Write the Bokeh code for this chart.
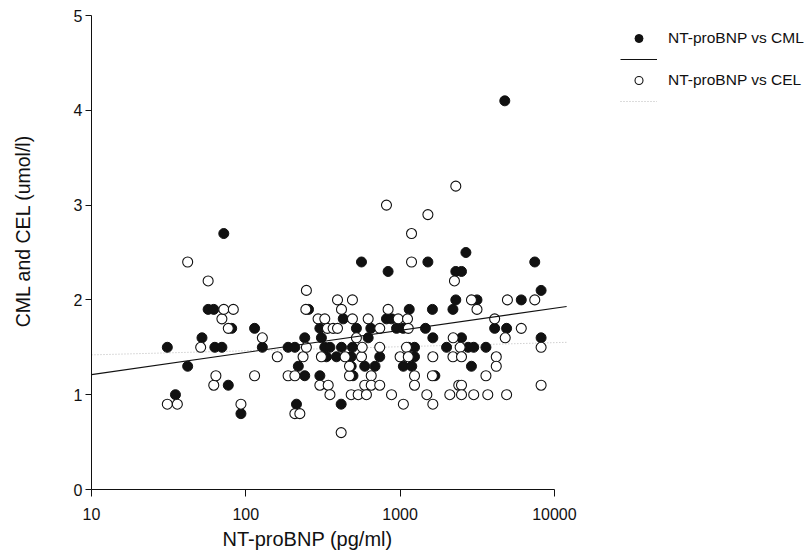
import math

from bokeh.core.properties import value
from bokeh.embed import file_html
from bokeh.models import (ColumnDataSource, FixedTicker, Legend, LegendItem,
                          NumeralTickFormatter, Range1d, Title)
from bokeh.plotting import figure
from bokeh.resources import INLINE

# --- data -------------------------------------------------------------------
# NT-proBNP (pg/ml) against CML (umol/l)
cml_ntprobnp = [31, 35, 42, 52, 57, 62, 63, 70, 72, 77, 81, 93, 114, 128,
                188, 208, 213, 219, 241, 241, 255, 302, 302, 309, 325, 351,
                333, 387, 415, 417, 428, 482, 482, 491, 495, 521, 562, 590,
                621, 646, 688, 738, 816, 836, 880, 948, 1047, 1050, 1130,
                1146, 1190, 1240, 1240, 1460, 1514, 1620, 1630, 1680, 2000,
                2200, 2296, 2296, 2500, 2500, 2670, 2760, 2900, 3000, 3150,
                3600, 4770, 4100, 4900, 6100, 7460, 8200, 8200]
cml_value = [1.5, 1.0, 1.3, 1.6, 1.9, 1.9, 1.5, 1.5, 2.7, 1.1, 1.7, 0.8, 1.7,
             1.5, 1.5, 1.5, 0.9, 1.3, 1.6, 1.2, 1.9, 1.7, 1.2, 1.6, 1.5, 1.5,
             1.4, 1.4, 0.9, 1.5, 1.8, 1.4, 1.3, 1.5, 1.2, 1.7, 2.4, 1.3, 1.6,
             1.7, 1.3, 1.4, 1.8, 2.3, 1.8, 1.7, 1.7, 1.3, 1.5, 1.9, 1.3, 1.5,
             1.4, 1.7, 2.4, 1.9, 1.6, 1.2, 1.5, 1.9, 2.0, 2.3, 2.3, 1.6, 2.5,
             1.5, 1.3, 1.5, 2.0, 1.5, 4.1, 1.7, 1.7, 2.0, 2.4, 2.1, 1.6]

# NT-proBNP (pg/ml) against CEL (umol/l)
cel_ntprobnp = [31, 36, 42, 51, 57, 62, 64, 70, 72, 77, 83, 93, 114, 128, 160,
                188, 208, 208, 224, 235, 245, 247, 247, 294, 302, 309, 325,
                338, 342, 351, 368, 393, 393, 415, 417, 440, 470, 470, 482,
                491, 491, 521, 535, 562, 568, 590, 605, 621, 650, 650, 738,
                738, 738, 816, 836, 880, 972, 1000, 1050, 1100, 1117, 1130,
                1130, 1186, 1186, 1240, 1240, 1490, 1514, 1620, 1630, 1630,
                2100, 2200, 2208, 2250, 2296, 2400, 2450, 2500, 2500, 2500,
                2900, 3000, 3150, 3600, 3700, 4100, 4200, 4200, 4800, 4900,
                4960, 6100, 7460, 8200, 8200]
cel_value = [0.9, 0.9, 2.4, 1.5, 2.2, 1.1, 1.2, 1.8, 1.9, 1.7, 1.9, 0.9, 1.2,
             1.6, 1.4, 1.2, 1.2, 0.8, 0.8, 1.4, 1.9, 2.1, 1.5, 1.8, 1.1, 1.4,
             1.8, 1.7, 1.1, 1.0, 1.7, 1.7, 2.0, 0.6, 1.9, 1.4, 1.2, 1.3, 1.0,
             2.0, 1.8, 1.6, 1.0, 1.4, 1.5, 1.1, 1.0, 1.8, 1.2, 1.1, 1.7, 1.5,
             1.1, 3.0, 1.9, 1.0, 1.8, 1.4, 0.9, 1.5, 1.8, 1.7, 1.4, 2.7, 2.4,
             1.2, 1.1, 1.0, 2.9, 1.2, 1.4, 0.9, 1.0, 1.4, 1.6, 2.2, 3.2, 1.1,
             1.5, 1.1, 1.0, 1.4, 2.0, 1.0, 1.9, 1.2, 1.0, 1.8, 1.4, 1.3, 1.6,
             1.0, 2.0, 1.7, 2.0, 1.5, 1.1]

# linear fits of value against log10(NT-proBNP)
cml_fit = {"intercept": 0.978, "slope": 0.2336}
cel_fit = {"intercept": 1.377, "slope": 0.043}
fit_span = [10, 12000]

x_ticks = [10, 100, 1000, 10000]
y_ticks = [0, 1, 2, 3, 4, 5]

x_title = "NT-proBNP (pg/ml)"
y_title = "CML and CEL (umol/l)"
cml_name = "NT-proBNP vs CML"
cel_name = "NT-proBNP vs CEL"

# --- layout -----------------------------------------------------------------
W, H = 811, 558
LEFT, RIGHT, TOP, BOTTOM = 91, 5, 15, 69
DECADE_PX = 154.3
frame_w = W - LEFT - RIGHT
x_end = 10 ** (math.log10(x_ticks[0]) + frame_w / DECADE_PX)

FONT = "Liberation Sans"
INK = "#111111"
NBSP = "\u00a0"


def fit_line(fit):
    ys = [fit["intercept"] + fit["slope"] * math.log10(x) for x in fit_span]
    return ColumnDataSource(dict(x=fit_span, y=ys))


p = figure(width=W, height=H, x_axis_type="log",
           x_range=Range1d(x_ticks[0], x_end),
           y_range=Range1d(y_ticks[0], y_ticks[-1]),
           output_backend="svg", toolbar_location=None,
           min_border_left=LEFT, min_border_right=RIGHT,
           min_border_top=TOP, min_border_bottom=BOTTOM)
p.outline_line_color = None
p.grid.visible = False
p.background_fill_color = "white"
p.border_fill_color = "white"

cel_line = p.line("x", "y", source=fit_line(cel_fit), line_color="#b8b8b8",
                  line_width=1, line_dash="1 2")

cml_src = ColumnDataSource(dict(x=cml_ntprobnp, y=cml_value))
cel_src = ColumnDataSource(dict(x=cel_ntprobnp, y=cel_value))

cml_pts = p.scatter("x", "y", source=cml_src, marker="circle", size=10,
                    fill_color=INK, line_color=INK, line_width=1)
cel_pts = p.scatter("x", "y", source=cel_src, marker="circle", size=10,
                    fill_color="white", line_color=INK, line_width=1.1)

cml_line = p.line("x", "y", source=fit_line(cml_fit), line_color=INK,
                  line_width=1.1)

# axes
xa = p.xaxis[0]
xa.bounds = (x_ticks[0], x_ticks[-1])
xa.ticker = FixedTicker(ticks=x_ticks, minor_ticks=[])
xa.formatter = NumeralTickFormatter(format="0")
xa.major_tick_in = 0
xa.major_tick_out = 7
xa.minor_tick_line_color = None
xa.major_label_standoff = 11

ya = p.yaxis[0]
ya.bounds = (y_ticks[0], y_ticks[-1])
ya.ticker = FixedTicker(ticks=y_ticks, minor_ticks=[])
ya.major_tick_in = 0
ya.major_tick_out = 6
ya.minor_tick_line_color = None
ya.major_label_standoff = 3
# title sits a little above the axis centre
ya.axis_label = NBSP * 8 + y_title
ya.axis_label_standoff = 37

for ax in (xa, ya):
    ax.axis_line_color = INK
    ax.major_tick_line_color = INK
    ax.major_label_text_font = FONT
    ax.major_label_text_font_size = "16px"
    ax.major_label_text_color = INK
    ax.axis_label_text_font = FONT
    ax.axis_label_text_font_size = "19.5px"
    ax.axis_label_text_font_style = "normal"
    ax.axis_label_text_color = INK

# x title under the decades, starting a fixed distance from the y axis
p.add_layout(Title(text=x_title, align="left", offset=131,
                   vertical_align="bottom", standoff=6,
                   text_font=FONT, text_font_size="20px",
                   text_font_style="normal", text_color=INK), "below")

# legend: marker row then fit-line row for each series
legend = Legend(items=[
    LegendItem(label=value(cml_name), renderers=[cml_pts]),
    LegendItem(label=value(" "), renderers=[cml_line]),
    LegendItem(label=value(cel_name), renderers=[cel_pts]),
    LegendItem(label=value(" "), renderers=[cel_line]),
], location=(529, 378))
legend.padding = 0
legend.margin = 0
legend.spacing = 1
legend.glyph_width = 37
legend.glyph_height = 20
legend.label_standoff = 11
legend.label_height = 20
legend.label_text_font = FONT
legend.label_text_font_size = "15.5px"
legend.label_text_color = INK
legend.border_line_color = None
legend.background_fill_alpha = 0
p.add_layout(legend)

open("out.html", "w").write(file_html(p, INLINE))
